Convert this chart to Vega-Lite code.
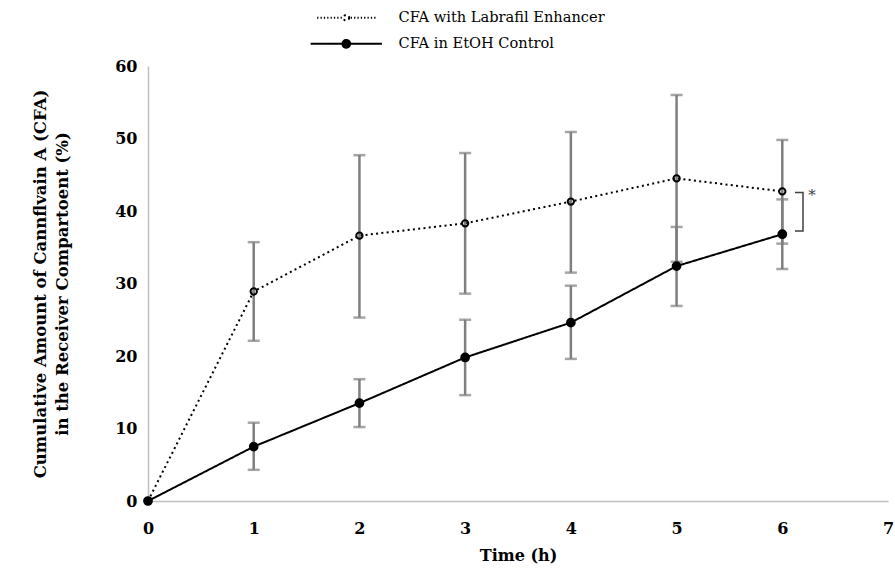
{
  "$schema": "https://vega.github.io/schema/vega-lite/v6.json",
  "width": 740,
  "height": 435,
  "autosize": {"type": "none"},
  "padding": {"left": 148, "top": 66, "right": 7, "bottom": 73},
  "background": "white",
  "config": {"view": {"stroke": null}, "font": "DejaVu Serif"},
  "datasets": {
    "main": [
      {"time": 0, "series": "CFA with Labrafil Enhancer", "mean": 0, "lo": 0, "hi": 0},
      {"time": 1, "series": "CFA with Labrafil Enhancer", "mean": 28.9, "lo": 22.1, "hi": 35.7},
      {"time": 2, "series": "CFA with Labrafil Enhancer", "mean": 36.6, "lo": 25.3, "hi": 47.7},
      {"time": 3, "series": "CFA with Labrafil Enhancer", "mean": 38.3, "lo": 28.6, "hi": 48.0},
      {"time": 4, "series": "CFA with Labrafil Enhancer", "mean": 41.3, "lo": 31.5, "hi": 50.9},
      {"time": 5, "series": "CFA with Labrafil Enhancer", "mean": 44.5, "lo": 33.0, "hi": 56.0},
      {"time": 6, "series": "CFA with Labrafil Enhancer", "mean": 42.7, "lo": 35.5, "hi": 49.8},
      {"time": 0, "series": "CFA in EtOH Control", "mean": 0, "lo": 0, "hi": 0},
      {"time": 1, "series": "CFA in EtOH Control", "mean": 7.5, "lo": 4.3, "hi": 10.8},
      {"time": 2, "series": "CFA in EtOH Control", "mean": 13.5, "lo": 10.2, "hi": 16.8},
      {"time": 3, "series": "CFA in EtOH Control", "mean": 19.8, "lo": 14.6, "hi": 25.0},
      {"time": 4, "series": "CFA in EtOH Control", "mean": 24.6, "lo": 19.6, "hi": 29.7},
      {"time": 5, "series": "CFA in EtOH Control", "mean": 32.4, "lo": 26.9, "hi": 37.8},
      {"time": 6, "series": "CFA in EtOH Control", "mean": 36.8, "lo": 32.0, "hi": 41.6}
    ],
    "bracket": [
      {"time": 6.12, "mean": 42.55, "k": 1},
      {"time": 6.196, "mean": 42.55, "k": 2},
      {"time": 6.196, "mean": 37.24, "k": 3},
      {"time": 6.12, "mean": 37.24, "k": 4}
    ],
    "star": [
      {"time": 6.28, "mean": 42.2, "label": "*"}
    ]
  },
  "layer": [
    {
      "data": {"name": "main"},
      "mark": {"type": "line", "color": "black", "strokeWidth": 2},
      "encoding": {
        "x": {
          "field": "time", "type": "quantitative",
          "scale": {"domain": [0, 7], "nice": false, "zero": false},
          "axis": {
            "title": "Time (h)", "values": [0, 1, 2, 3, 4, 5, 6, 7], "format": "d",
            "grid": false, "ticks": false, "domainColor": "#bfbfbf", "domainWidth": 1.5,
            "labelFont": "DejaVu Serif", "labelFontWeight": "bold", "labelFontSize": 16, "labelColor": "black",
            "labelPadding": 19, "labelFlush": false, "labelOverlap": false,
            "titleFont": "DejaVu Serif", "titleFontWeight": "bold", "titleFontSize": 16, "titleColor": "black",
            "titlePadding": 11
          }
        },
        "y": {
          "field": "mean", "type": "quantitative",
          "scale": {"domain": [0, 60], "nice": false},
          "axis": {
            "title": ["Cumulative Amount of  Cannflvain A (CFA)", "in the Receiver Compartoent (%)"],
            "values": [0, 10, 20, 30, 40, 50, 60], "format": "d",
            "grid": false, "ticks": false, "domainColor": "#bfbfbf", "domainWidth": 1.5,
            "labelFont": "DejaVu Serif", "labelFontWeight": "bold", "labelFontSize": 16, "labelColor": "black",
            "labelPadding": 11,
            "titleFont": "DejaVu Serif", "titleFontWeight": "bold", "titleFontSize": 16.5, "titleColor": "black",
            "titleLineHeight": 22, "titleX": -108, "titleY": 217.5, "titleAngle": -90,
            "titleAlign": "center", "titleBaseline": "middle"
          }
        },
        "strokeDash": {
          "field": "series", "type": "nominal",
          "scale": {"domain": ["CFA with Labrafil Enhancer", "CFA in EtOH Control"], "range": [[2, 3.3], [1, 0]]},
          "legend": {
            "orient": "none", "legendX": 191, "legendY": -55.5, "title": null,
            "symbolType": "stroke", "symbolSize": 100, "symbolStrokeWidth": 2, "symbolStrokeColor": "black",
            "rowPadding": 10, "labelOffset": 45, "labelLimit": 500,
            "labelFont": "DejaVu Serif", "labelFontSize": 14.6, "labelColor": "black",
            "encode": {
              "symbols": {
                "update": {
                  "shape": {"signal": "datum.value === 'CFA with Labrafil Enhancer' ? 'M-9.22,0h0.4M-8.16,0h0.4M-7.1,0h0.4M-6.04,0h0.4M-4.98,0h0.4M-3.92,0h0.4M-2.86,0h0.4M-1.8,0h0.4M1.4,0h0.4M2.46,0h0.4M3.52,0h0.4M4.58,0h0.4M5.64,0h0.4M6.7,0h0.4M7.76,0h0.4M8.82,0h0.4M0.9,0A0.9,0.9 0 1 1 -0.9,0A0.9,0.9 0 1 1 0.9,0Z' : 'M-9.2,0H-1M1,0H9.2M1,0A1,1 0 1 1 -1,0A1,1 0 1 1 1,0Z'"},
                  "size": {"value": 100},
                  "fill": {"signal": "datum.value === 'CFA with Labrafil Enhancer' ? 'transparent' : 'black'"},
                  "stroke": {"value": "black"},
                  "strokeWidth": {"value": 2},
                  "strokeDash": {"value": [1, 0]},
                  "opacity": {"value": 1}
                }
              }
            }
          }
        },
        "order": {"field": "time"}
      }
    },
    {
      "data": {"name": "main"},
      "transform": [{"filter": "datum.time > 0"}],
      "mark": {"type": "rule", "color": "#7f7f7f", "strokeWidth": 2.5},
      "encoding": {
        "x": {"field": "time", "type": "quantitative"},
        "y": {"field": "lo", "type": "quantitative"},
        "y2": {"field": "hi"}
      }
    },
    {
      "data": {"name": "main"},
      "transform": [{"filter": "datum.time > 0"}],
      "mark": {"type": "tick", "orient": "horizontal", "color": "#7f7f7f", "size": 12, "thickness": 2.5},
      "encoding": {
        "x": {"field": "time", "type": "quantitative"},
        "y": {"field": "lo", "type": "quantitative"}
      }
    },
    {
      "data": {"name": "main"},
      "transform": [{"filter": "datum.time > 0"}],
      "mark": {"type": "tick", "orient": "horizontal", "color": "#7f7f7f", "size": 12, "thickness": 2.5},
      "encoding": {
        "x": {"field": "time", "type": "quantitative"},
        "y": {"field": "hi", "type": "quantitative"}
      }
    },
    {
      "data": {"name": "main"},
      "mark": {"type": "point", "filled": true, "stroke": "black", "strokeWidth": 2, "opacity": 1},
      "encoding": {
        "x": {"field": "time", "type": "quantitative"},
        "y": {"field": "mean", "type": "quantitative"},
        "fill": {
          "field": "series", "type": "nominal",
          "scale": {"domain": ["CFA with Labrafil Enhancer", "CFA in EtOH Control"], "range": ["transparent", "black"]},
          "legend": null
        },
        "size": {
          "field": "series", "type": "nominal",
          "scale": {"domain": ["CFA with Labrafil Enhancer", "CFA in EtOH Control"], "range": [40, 60]},
          "legend": null
        }
      }
    },
    {
      "data": {"name": "bracket"},
      "mark": {"type": "line", "color": "#404040", "strokeWidth": 1.5},
      "encoding": {
        "x": {"field": "time", "type": "quantitative"},
        "y": {"field": "mean", "type": "quantitative"},
        "order": {"field": "k"}
      }
    },
    {
      "data": {"name": "star"},
      "mark": {"type": "text", "color": "#404040", "fontSize": 15, "font": "DejaVu Serif", "baseline": "middle", "align": "center"},
      "encoding": {
        "x": {"field": "time", "type": "quantitative"},
        "y": {"field": "mean", "type": "quantitative"},
        "text": {"field": "label"}
      }
    }
  ]
}
